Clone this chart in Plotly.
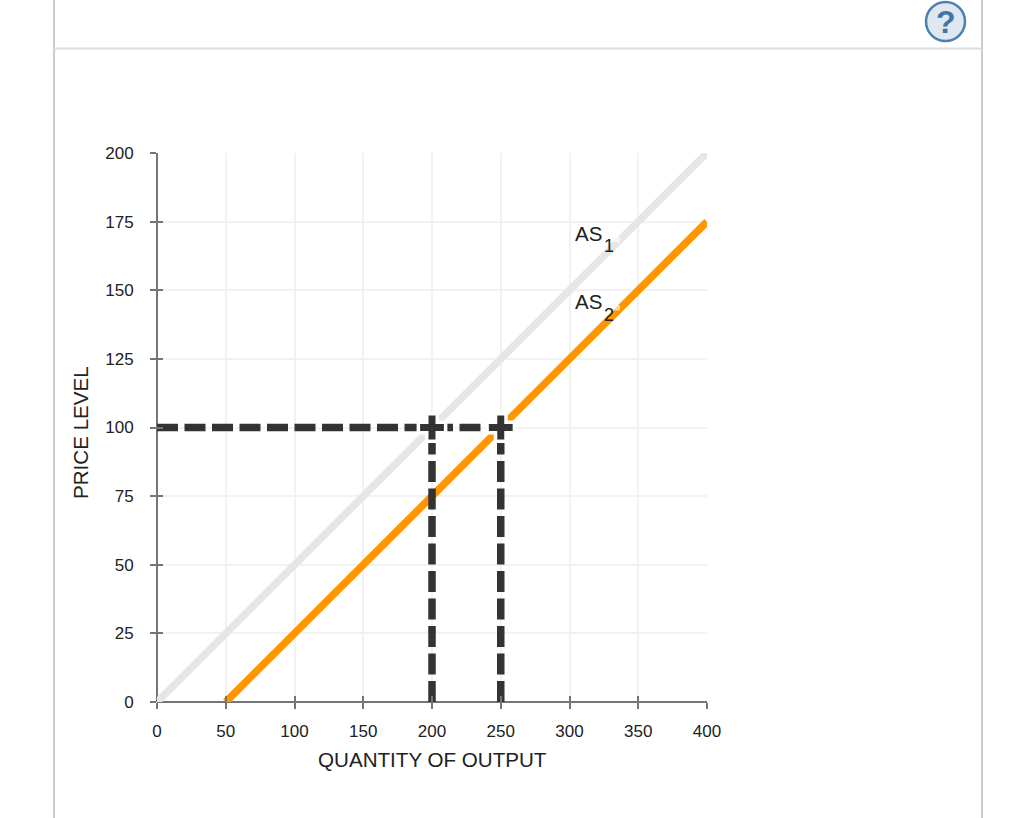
import plotly.graph_objects as go

# 数値は画像から読み取り
x_ticks = [0, 50, 100, 150, 200, 250, 300, 350, 400]
y_ticks = [0, 25, 50, 75, 100, 125, 150, 175, 200]
as1_x = [0, 400]
as1_y = [0, 200]
as2_x = [50, 400]
as2_y = [0, 175]
price_level = 100
quantity_1 = 200
quantity_2 = 250

FONT = "Liberation Sans, Arial, sans-serif"
DARK = "#333333"
GRAY = "#757575"
TEXT = "#212121"
DASH = "21px,6.5px"
W, H = 1024, 818
L, R, T, B = 157, 707, 153, 702


# ピクセル位置 -> paper座標
def px(x):
    return (x - L) / (R - L)


def py(y):
    return (B - y) / (B - T)


def label(x, y, text, size=20.5):
    return dict(x=x, y=y, xanchor="left", yanchor="middle", xref="x", yref="y", showarrow=False,
                text=text, font=dict(family=FONT, size=size, color=TEXT))


# ラベル横の薄い白パッチ
def patch(x0, x1, y0, y1):
    return dict(type="rect", xref="paper", yref="paper", x0=px(x0), x1=px(x1), y0=py(y1), y1=py(y0),
                fillcolor="white", opacity=0.6, line=dict(width=0), layer="above")


fig = go.Figure()

# 供給曲線
fig.add_trace(go.Scatter(x=as1_x, y=as1_y, mode="lines", line=dict(color="#e6e6e6", width=7.5), cliponaxis=False))
fig.add_trace(go.Scatter(x=as2_x, y=as2_y, mode="lines", line=dict(color="#ff9600", width=7.5), cliponaxis=False))

# 点線
fig.add_trace(go.Scatter(
    x=[0, quantity_2], y=[price_level, price_level], mode="lines",
    line=dict(color=DARK, width=7.5, dash=DASH), cliponaxis=False,
))
for q in [quantity_1, quantity_2]:
    fig.add_trace(go.Scatter(
        x=[q, q], y=[0, price_level], mode="lines",
        line=dict(color=DARK, width=7.5, dash=DASH), cliponaxis=False,
    ))

# 交点の白フチ
fig.add_trace(go.Scatter(
    x=[quantity_1, quantity_2], y=[price_level, price_level], mode="markers",
    marker=dict(symbol="cross-thin", size=22, color="white", line=dict(color="white", width=14)),
    cliponaxis=False,
))

# 交点のマーカー
fig.add_trace(go.Scatter(
    x=[quantity_1, quantity_2], y=[price_level, price_level], mode="markers",
    marker=dict(symbol="cross-thin", size=17, color=DARK, line=dict(color=DARK, width=7)),
    cliponaxis=False,
))

# 軸の内側の目盛り用
fig.add_trace(go.Scatter(x=[0, 400], y=[0, 200], xaxis="x2", yaxis="y2", mode="markers", marker=dict(opacity=0)))

axis_common = dict(
    showline=False, ticks="outside", ticklen=6, tickcolor=GRAY, tickwidth=1.5,
    showgrid=True, gridcolor="#f2f2f2", gridwidth=2,
    zeroline=True, zerolinecolor=GRAY, zerolinewidth=2,
    tickfont=dict(family=FONT, size=17, color=TEXT),
)
inner_common = dict(
    showline=False, ticks="inside", ticklen=6, tickcolor=GRAY, tickwidth=1.5,
    showgrid=False, zeroline=False, showticklabels=False,
)

fig.update_layout(
    width=W, height=H, showlegend=False, plot_bgcolor="white", paper_bgcolor="white",
    margin=dict(l=L, r=W - R, t=T, b=H - B),
    xaxis=dict(range=[0, 400], tickvals=x_ticks, ticklabelstandoff=8, **axis_common),
    yaxis=dict(range=[0, 200], tickvals=y_ticks, ticklabelstandoff=13, **axis_common),
    xaxis2=dict(range=[0, 400], tickvals=x_ticks, anchor="y2", overlaying="x", **inner_common),
    yaxis2=dict(range=[0, 200], tickvals=y_ticks, anchor="x2", overlaying="y", **inner_common),
    annotations=[
        dict(x=px(432), y=py(759.5), xanchor="center", yanchor="middle", xref="paper", yref="paper",
             text="QUANTITY OF OUTPUT", showarrow=False, font=dict(family=FONT, size=20.6, color=TEXT)),
        dict(x=px(80.5), y=py(432.5), xanchor="center", yanchor="middle", xref="paper", yref="paper",
             text="PRICE LEVEL", showarrow=False, textangle=-90, font=dict(family=FONT, size=20.6, color=TEXT)),
        label(302.5, 170.6, "AS"),
        label(323.6, 166.1, "1", 18),
        label(302.5, 145.8, "AS"),
        label(323.6, 141, "2", 18),
        dict(x=px(945.5), y=py(22), xanchor="center", yanchor="middle", xref="paper", yref="paper",
             text="<b>?</b>", showarrow=False, font=dict(family=FONT, size=32, color="#3f75a8")),
    ],
    shapes=[
        # 外枠
        dict(type="line", xref="paper", yref="paper", x0=px(54), x1=px(54), y0=py(0), y1=py(H), line=dict(color="#cccccc", width=2)),
        dict(type="line", xref="paper", yref="paper", x0=px(982), x1=px(982), y0=py(0), y1=py(H), line=dict(color="#cccccc", width=2)),
        dict(type="line", xref="paper", yref="paper", x0=px(54), x1=px(982), y0=py(48.5), y1=py(48.5), line=dict(color="#dddddd", width=2)),
        # ヘルプアイコン
        dict(type="circle", xref="paper", yref="paper", x0=px(926), x1=px(965), y0=py(41), y1=py(2),
             fillcolor="#dfe8f1", line=dict(color="#4a80b3", width=2.5)),
        patch(612, 620, 237, 242.5),
        patch(612, 620, 305, 310.5),
    ],
)

fig.write_html(
    "out.html",
    config=dict(displayModeBar=False),
    post_script="document.body.style.margin='0';document.body.style.overflow='hidden';",
)
